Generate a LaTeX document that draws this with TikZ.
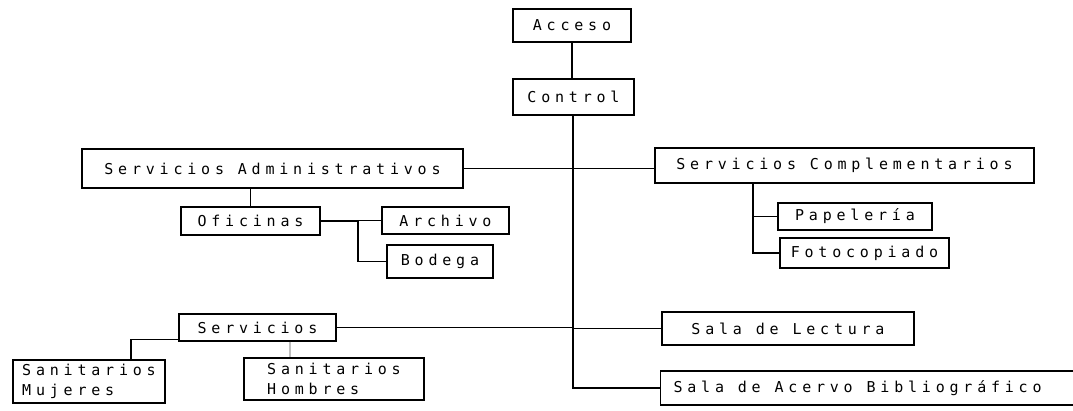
\documentclass[tikz,border=0pt]{standalone}
\usepackage{fontspec}
\newfontfamily\dotfont[LetterSpace=32]{DejaVu Sans Mono}
\begin{document}
\begin{tikzpicture}[x=1pt,y=-1pt,
  box/.style={draw=black, line width=1.1pt, rectangle, inner sep=0pt,
    font=\dotfont\fontsize{15}{20}\selectfont, align=center},
  link/.style={draw=black, line width=1.1pt},
  faint/.style={draw=black!25, line width=1.1pt}]
\useasboundingbox[fill=white] (0,0) rectangle (1073,410);
% boxes: center, width, height
\node[box, minimum width=118, minimum height=33] (acc) at (572,25.5) {Acceso};
\node[box, minimum width=121, minimum height=36] (ctl) at (573.5,97) {Control};
\node[box, minimum width=381, minimum height=39] (sadm) at (272.5,168.5) {Servicios Administrativos};
\node[box, minimum width=379, minimum height=35] (scomp) at (844.5,165.5) {Servicios Complementarios};
\node[box, minimum width=139, minimum height=28] (ofi) at (250.5,221) {Oficinas};
\node[box, minimum width=127, minimum height=27] (arch) at (445.5,220.5) {Archivo};
\node[box, minimum width=106, minimum height=33] (bod) at (440,261.5) {Bodega};
\node[box, minimum width=154, minimum height=27] (pap) at (855,216.5) {Papelería};
\node[box, minimum width=169, minimum height=30] (foto) at (864.5,253) {Fotocopiado};
\node[box, minimum width=157, minimum height=27] (serv) at (257.5,327.5) {Servicios};
\node[box, minimum width=252, minimum height=33] (slec) at (788,328.5) {Sala de Lectura};
\node[box, anchor=west, inner xsep=13pt, minimum height=34] (sacer) at (660,388) {\makebox[404pt][l]{Sala de Acervo Bibliográfico}};
\node[box, minimum width=152, minimum height=43, align=left] (smuj) at (89,381.5) {Sanitarios\\Mujeres};
\node[box, minimum width=180, minimum height=42, align=left] (shom) at (334,379) {Sanitarios\\Hombres};
% connector coordinates
\coordinate (trunk) at (573,0);
\coordinate (br) at (358,0);
\coordinate (cb) at (753,0);
\coordinate (mb) at (131,0);
\coordinate (hb) at (290,0);
% connectors
\draw[link] (acc.south) -- (acc.south |- ctl.north);
\draw[link] (ctl.south -| trunk) -- (trunk |- sacer.west) -- (sacer.west);
\draw[link] (sadm.east) -- (sadm.east -| scomp.west);
\draw[link] (ofi.north) -- (ofi.north |- sadm.south);
\draw[link] (ofi.east) -- (ofi.east -| br);
\draw[link] (arch.west) -| (br |- bod.west) -- (bod.west);
\draw[link] (scomp.south -| cb) |- (foto.west);
\draw[link] (pap.west) -- (pap.west -| cb);
\draw[link] (serv.east) -- (serv.east -| trunk);
\draw[link] (slec.west) -- (slec.west -| trunk);
\draw[link] ([yshift=2pt]serv.south west) -| (mb |- smuj.north);
\draw[faint] (serv.south -| hb) -- (hb |- shom.north);
\end{tikzpicture}
\end{document}
